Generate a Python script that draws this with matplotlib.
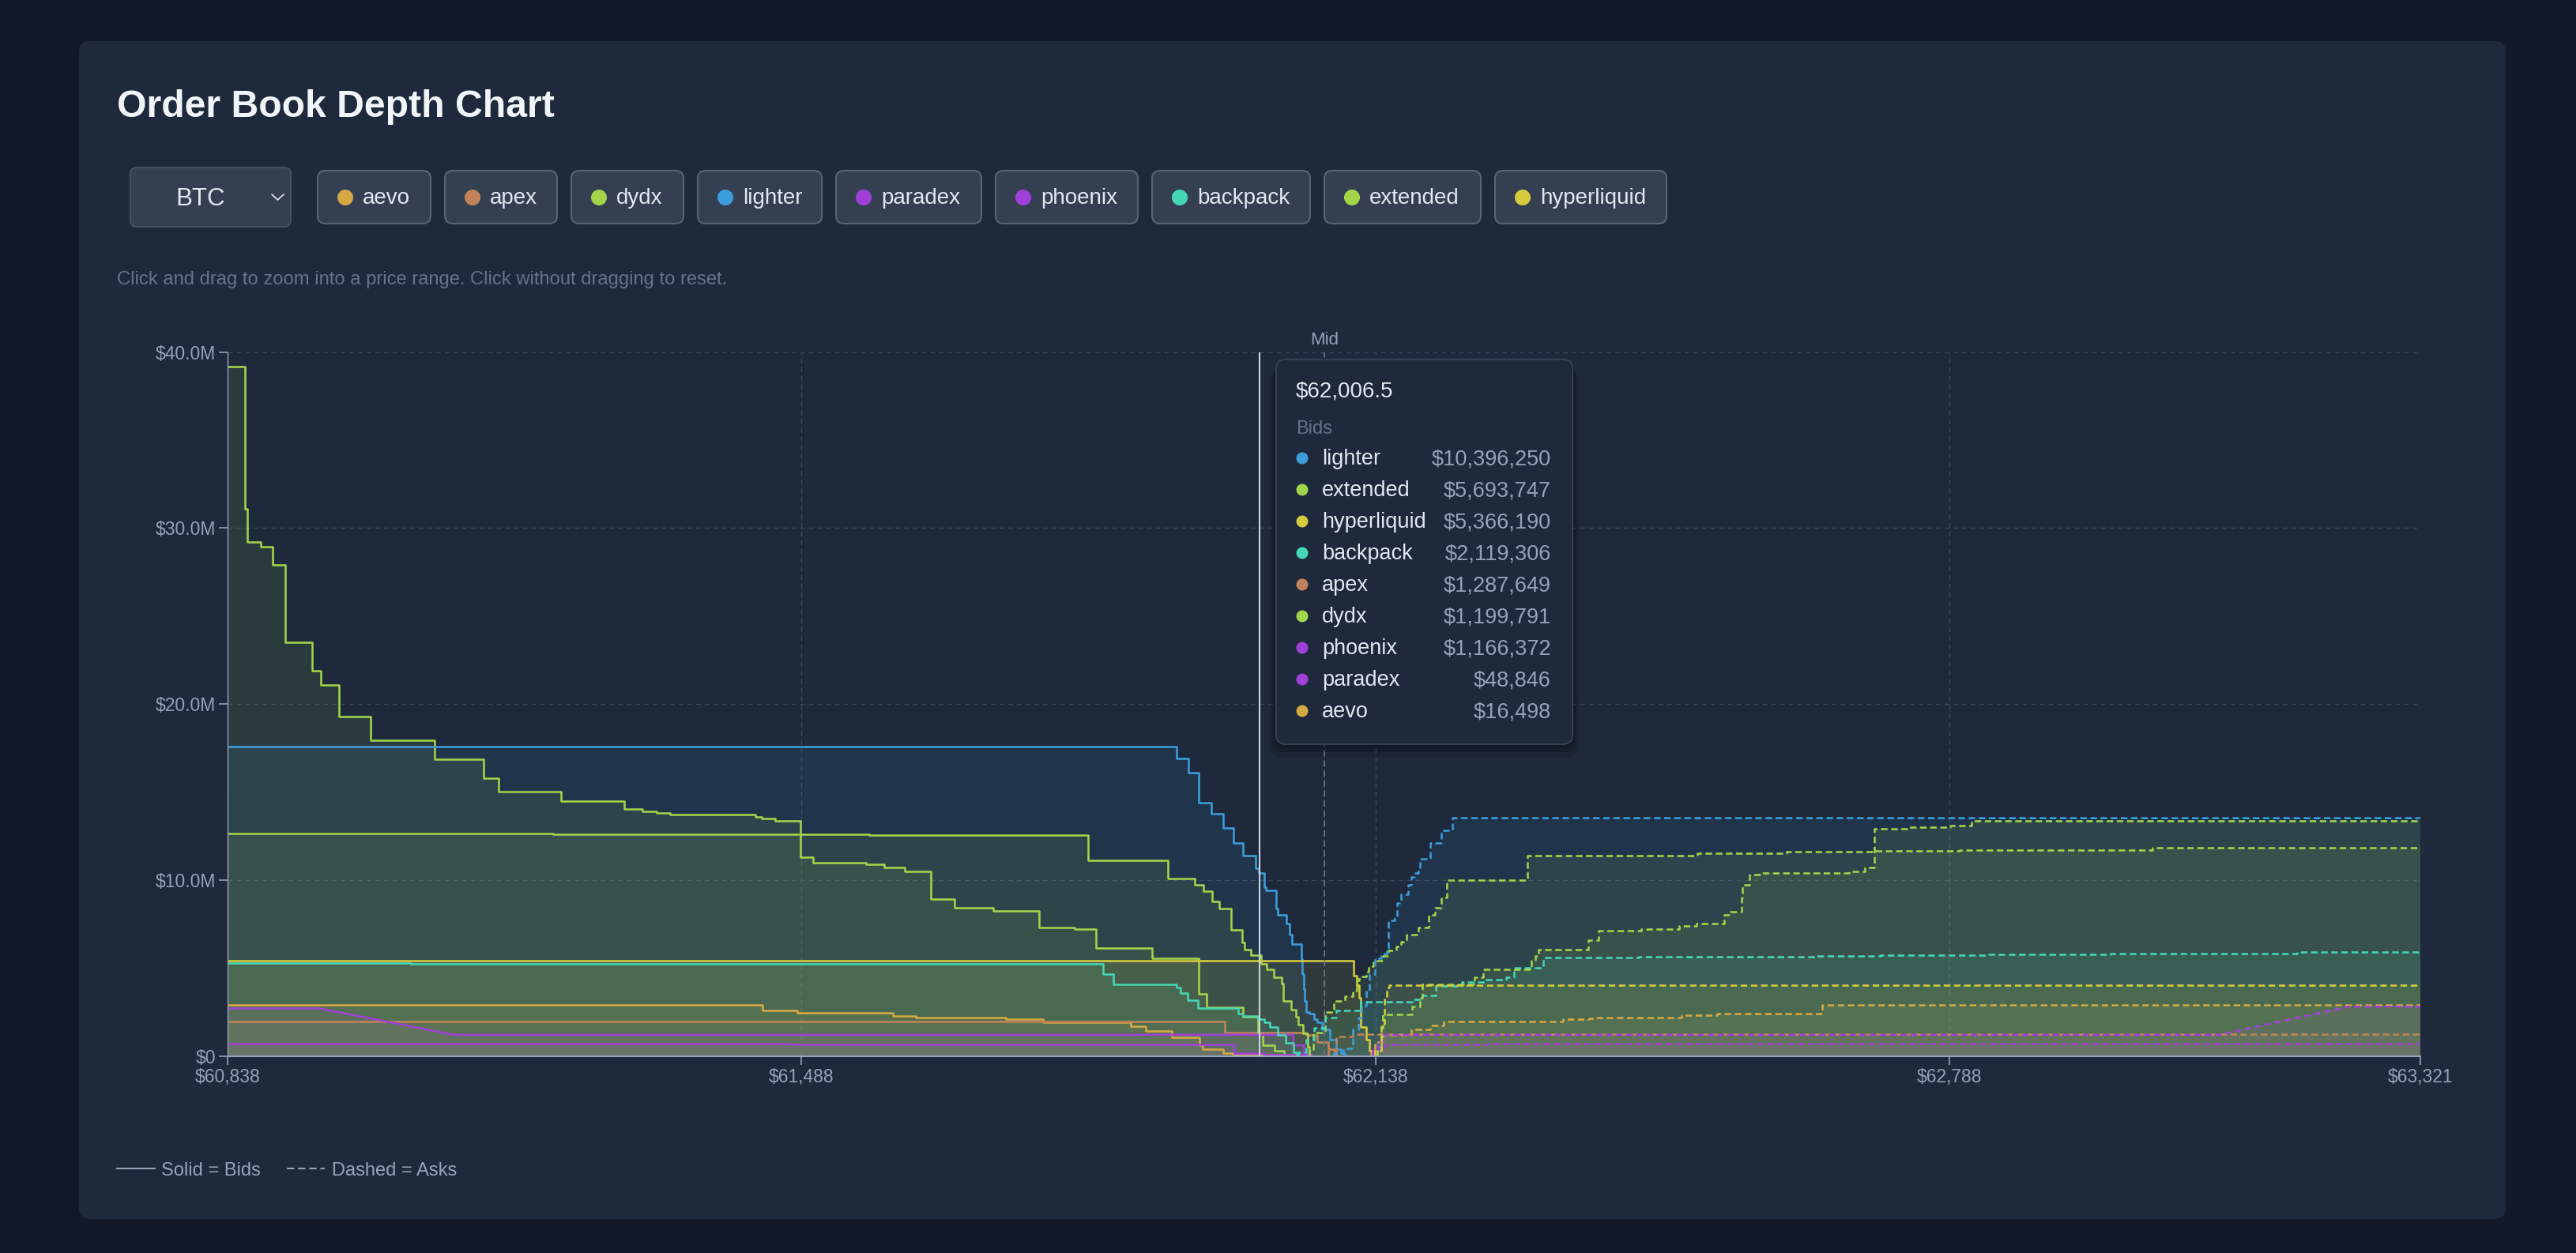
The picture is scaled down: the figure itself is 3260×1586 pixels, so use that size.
import matplotlib
matplotlib.use("Agg")
import matplotlib.pyplot as plt
from matplotlib.patches import FancyBboxPatch, Circle
from matplotlib.ticker import FuncFormatter, FixedLocator

plt.rcParams["font.family"] = ["Liberation Sans", "DejaVu Sans"]

W, H = 3260, 1586
BG, CARD = "#111827", "#1e293b"
BTN, BTN_EDGE = "#344052", "#586476"
TXT, MUTED, DIM, GRID = "#e2e8f0", "#94a3b8", "#64748b", "#3a4557"

EXCHANGES = ["aevo", "apex", "dydx", "lighter", "paradex", "phoenix", "backpack", "extended", "hyperliquid"]
COLORS = {"aevo": "#d6a842", "apex": "#c2835a", "dydx": "#a3d44a", "lighter": "#3b9edb",
          "paradex": "#a040d8", "phoenix": "#a040d8", "backpack": "#45d6b5",
          "extended": "#a3d44a", "hyperliquid": "#d6cb3f"}

# ---- cumulative depth, $M; each level holds until the next price ----
aevo_bid_px = [60838, 61444, 61483, 61591, 61617, 61719, 61761, 61861, 61878, 61907, 61939, 61942, 61965, 61976, 62048]
aevo_bid_m = [2.9, 2.6, 2.44, 2.28, 2.18, 2.09, 1.9, 1.68, 1.41, 1.05, 0.6, 0.37, 0.15, 0.05, 0]
aevo_ask_px = [62133, 62137, 62146, 62178, 62200, 62215, 62350, 62380, 62388, 62484, 62525, 62644, 63321]
aevo_ask_m = [0.3, 0.8, 1.2, 1.52, 1.72, 1.97, 2.07, 2.14, 2.19, 2.3, 2.4, 2.9, 2.9]

apex_bid_px = [60838, 61967, 62059, 62072, 62084, 62093]
apex_bid_m = [1.95, 1.34, 1.2, 0.8, 0.4, 0]
apex_ask_px = [62084, 62093, 62095, 62112, 63321]
apex_ask_m = [0.3, 1.05, 1.1, 1.22, 1.23]

dydx_bid_px = [60838, 60858, 60860, 60876, 60889, 60903, 60934, 60944, 60964, 61000, 61072, 61128, 61145,
               61216, 61287, 61308, 61324, 61339, 61436, 61443, 61458, 61487, 61501, 61561, 61582, 61605,
               61634, 61661, 61705, 61757, 61797, 61821, 61885, 61938, 61947, 61988, 62005, 62010, 62024, 62034]
dydx_bid_m = [39.2, 31.1, 29.2, 28.95, 27.9, 23.5, 21.9, 21.1, 19.3, 17.94, 16.86, 15.8, 15.03,
              14.48, 14.03, 13.9, 13.8, 13.72, 13.6, 13.5, 13.36, 11.3, 11.0, 10.9, 10.7, 10.5,
              8.9, 8.4, 8.24, 7.3, 7.2, 6.13, 5.54, 3.52, 2.76, 2.24, 1.25, 0.6, 0.3, 0]
dydx_ask_px = [62063, 62067, 62081, 62091, 62103, 62112, 62117, 62119, 62127, 62130, 62135, 62140, 62146,
               62152, 62161, 62167, 62173, 62186, 62198, 62205, 62212, 62219, 62310, 62502, 62603, 62703,
               62799, 63018, 63321]
dydx_ask_m = [0.3, 1.34, 2.5, 3.1, 3.4, 3.7, 4.3, 4.5, 4.8, 5.1, 5.3, 5.4, 5.7,
              6.0, 6.2, 6.5, 6.9, 7.3, 8.0, 8.4, 9.0, 10.0, 11.4, 11.5, 11.6, 11.65,
              11.7, 11.85, 11.85]

lighter_bid_px = [60838, 61913, 61926, 61938, 61952, 61965, 61977, 61988, 62002, 62006, 62012, 62014, 62025,
                  62027, 62037, 62041, 62043, 62054, 62055, 62057, 62058, 62059, 62063, 62068, 62072, 62077,
                  62086, 62093, 62099, 62103]
lighter_bid_m = [17.57, 16.9, 16.1, 14.4, 13.76, 12.95, 12.1, 11.4, 10.66, 10.4, 9.58, 9.4, 8.37,
                 8.0, 7.5, 6.9, 6.35, 5.5, 4.64, 3.8, 3.1, 2.5, 2.4, 2.1, 1.9, 1.5,
                 0.9, 0.4, 0.15, 0]
lighter_ask_px = [62091, 62101, 62112, 62118, 62122, 62127, 62131, 62137, 62144, 62151, 62152, 62160, 62162,
                  62167, 62175, 62178, 62182, 62186, 62188, 62200, 62212, 62225, 63321]
lighter_ask_m = [0.15, 0.43, 1.5, 2.2, 2.85, 3.74, 4.64, 5.54, 5.8, 6.13, 7.7, 7.85, 8.7,
                 9.2, 9.7, 10.17, 10.4, 10.6, 11.2, 12.1, 12.8, 13.54, 13.54]

paradex_bid_px = [60838, 61475, 61978, 62012, 62066]
paradex_bid_m = [0.70, 0.67, 0.15, 0.05, 0]
paradex_ask_px = [62135, 62142, 62149, 62265, 63321]
paradex_ask_m = [0.2, 0.5, 0.65, 0.68, 0.68]

phoenix_bid_px = [60838, 60942, 61094, 62045, 62057, 62063]
phoenix_bid_m = [2.7, 2.7, 1.2, 0.6, 0.1, 0]
phoenix_ask_px = [62135, 62141, 62146, 63092, 63240, 63321]
phoenix_ask_m = [0.3, 0.8, 1.19, 1.19, 2.8, 2.8]

backpack_bid_px = [60838, 61046, 61207, 61829, 61841, 61913, 61917, 61925, 61937, 61982, 61988, 62005, 62012,
                   62018, 62027, 62036, 62045, 62049]
backpack_bid_m = [5.28, 5.25, 5.22, 4.64, 4.06, 3.9, 3.58, 3.17, 2.72, 2.42, 2.25, 2.1, 1.9,
                  1.64, 1.19, 0.74, 0.22, 0]
backpack_ask_px = [62050, 62059, 62068, 62081, 62093, 62121, 62179, 62188, 62191, 62206, 62236, 62262, 62286,
                   62295, 62328, 62436, 62595, 62636, 62710, 62829, 62970, 63181, 63321]
backpack_ask_m = [0.2, 0.9, 1.6, 2.2, 2.6, 3.07, 3.2, 3.3, 3.43, 3.97, 4.2, 4.35, 4.48,
                  5.0, 5.58, 5.62, 5.65, 5.7, 5.73, 5.76, 5.8, 5.9, 5.9]

extended_bid_px = [60838, 61207, 61565, 61812, 61903, 61933, 61943, 61953, 61961, 61974, 61987, 61990, 61997,
                   62008, 62015, 62023, 62032, 62033, 62042, 62048, 62050, 62056, 62061, 62063]
extended_bid_m = [12.64, 12.6, 12.55, 11.1, 10.1, 9.72, 9.36, 8.8, 8.37, 7.18, 6.44, 6.05, 5.72,
                  5.23, 4.93, 4.48, 4.1, 3.13, 2.62, 2.24, 1.79, 1.28, 0.5, 0]
extended_ask_px = [62140, 62144, 62146, 62179, 62188, 62191, 62250, 62260, 62314, 62319, 62322, 62379, 62390,
                   62439, 62482, 62501, 62533, 62540, 62552, 62553, 62561, 62573, 62674, 62692, 62703, 62744,
                   62789, 62813, 63321]
extended_ask_m = [0.3, 1.6, 2.35, 2.8, 3.3, 4.05, 4.47, 4.9, 5.4, 5.7, 6.05, 6.6, 7.1,
                  7.2, 7.4, 7.5, 8.0, 8.2, 9.0, 9.7, 10.3, 10.4, 10.5, 10.7, 12.9, 13.0,
                  13.1, 13.35, 13.35]

hyperliquid_bid_px = [60838, 62113, 62117, 62119, 62121, 62127, 62131, 62135]
hyperliquid_bid_m = [5.40, 4.56, 4.03, 3.3, 1.64, 0.9, 0.3, 0]
hyperliquid_ask_px = [62137, 62144, 62148, 62151, 62153, 63321]
hyperliquid_ask_m = [0.3, 1.8, 3.2, 3.9, 4.02, 4.02]

BIDS = {"aevo": (aevo_bid_px, aevo_bid_m), "apex": (apex_bid_px, apex_bid_m),
        "dydx": (dydx_bid_px, dydx_bid_m), "lighter": (lighter_bid_px, lighter_bid_m),
        "paradex": (paradex_bid_px, paradex_bid_m), "phoenix": (phoenix_bid_px, phoenix_bid_m),
        "backpack": (backpack_bid_px, backpack_bid_m), "extended": (extended_bid_px, extended_bid_m),
        "hyperliquid": (hyperliquid_bid_px, hyperliquid_bid_m)}
ASKS = {"aevo": (aevo_ask_px, aevo_ask_m), "apex": (apex_ask_px, apex_ask_m),
        "dydx": (dydx_ask_px, dydx_ask_m), "lighter": (lighter_ask_px, lighter_ask_m),
        "paradex": (paradex_ask_px, paradex_ask_m), "phoenix": (phoenix_ask_px, phoenix_ask_m),
        "backpack": (backpack_ask_px, backpack_ask_m), "extended": (extended_ask_px, extended_ask_m),
        "hyperliquid": (hyperliquid_ask_px, hyperliquid_ask_m)}
# segments drawn as straight ramps (sparse books)
RAMPS = {("phoenix", "bid"): {1}, ("phoenix", "ask"): {3}}

X_TICKS = [60838, 61488, 62138, 62788, 63321]
Y_TICKS = [0, 10, 20, 30, 40]
MID_PRICE = 62080
CURSOR_PRICE = 62006.5
TIP_NAMES = ["lighter", "extended", "hyperliquid", "backpack", "apex", "dydx", "phoenix", "paradex", "aevo"]
TIP_VALUES = [10396250, 5693747, 5366190, 2119306, 1287649, 1199791, 1166372, 48846, 16498]


def step_path(px, m, ask, ramps=()):
    xs, ys = ([px[0]], [0.0]) if ask else ([], [])
    xs.append(px[0]); ys.append(m[0])
    for i in range(1, len(px)):
        if i - 1 not in ramps:
            xs.append(px[i]); ys.append(m[i - 1])
        xs.append(px[i]); ys.append(m[i])
    return xs, ys


fig = plt.figure(figsize=(W / 100, H / 100), dpi=100, facecolor=BG)

# ---- page / card layer (pixel coords, y down) ----
bg = fig.add_axes([0, 0, 1, 1], zorder=0)
bg.set_xlim(0, W); bg.set_ylim(H, 0); bg.axis("off")
bg.add_patch(FancyBboxPatch((100, 52), 3071, 1491, boxstyle="round,pad=0,rounding_size=14",
                            fc=CARD, ec="none"))
bg.text(148, 148, "Order Book Depth Chart", fontsize=34.7, weight="bold", color="#f1f5f9", va="baseline")

# asset select
bg.add_patch(FancyBboxPatch((165, 212), 203, 75, boxstyle="round,pad=0,rounding_size=8",
                            fc=BTN, ec="#4a5568", lw=1.2))
bg.text(254, 260, "BTC", fontsize=22.5, color=TXT, ha="center", va="baseline")
bg.plot([344, 351.5, 359], [246, 253, 246], color=TXT, lw=1.2, solid_capstyle="round")

# exchange toggles
BTN_X = [402, 563, 723, 883, 1058, 1260, 1458, 1676, 1892]
BTN_W = [143, 142, 142, 157, 184, 180, 200, 198, 217]
for name, bx, bw in zip(EXCHANGES, BTN_X, BTN_W):
    bg.add_patch(FancyBboxPatch((bx, 216), bw, 67, boxstyle="round,pad=0,rounding_size=10",
                                fc=BTN, ec=BTN_EDGE, lw=1.5))
    bg.add_patch(Circle((bx + 35, 250), 10, fc=COLORS[name], ec="none"))
    bg.text(bx + 57, 258, name, fontsize=20, color=TXT, va="baseline")

bg.text(148, 360, "Click and drag to zoom into a price range. Click without dragging to reset.",
        fontsize=17.1, color=DIM, va="baseline")

# bottom legend
bg.plot([148, 196], [1479, 1479], color=MUTED, lw=1.5)
bg.text(204, 1488, "Solid = Bids", fontsize=17, color=MUTED, va="baseline")
bg.plot([363, 411], [1479, 1479], color=MUTED, lw=1.5, linestyle=(0, (4.5, 2.3)))
bg.text(420, 1488, "Dashed = Asks", fontsize=17, color=MUTED, va="baseline")

# ---- depth chart ----
ax = fig.add_axes([288 / W, (H - 1336.5) / H, 2775 / W, 890.8 / H], zorder=2)
ax.set_facecolor("none")
ax.set_xlim(X_TICKS[0], X_TICKS[-1])
ax.set_ylim(0, 40)

for side, book in (("bid", BIDS), ("ask", ASKS)):
    for name in EXCHANGES:
        px, m = book[name]
        xs, ys = step_path(px, m, side == "ask", RAMPS.get((name, side), ()))
        ax.fill_between(xs, ys, 0, color=COLORS[name], alpha=0.1, lw=0, zorder=1)
for side, book in (("bid", BIDS), ("ask", ASKS)):
    for name in EXCHANGES:
        px, m = book[name]
        xs, ys = step_path(px, m, side == "ask", RAMPS.get((name, side), ()))
        ls = "-" if side == "bid" else (0, (3.2, 1.8))
        ax.plot(xs, ys, color=COLORS[name], lw=1.85, linestyle=ls, zorder=2)

ax.axvline(MID_PRICE, color=DIM, lw=1.3, linestyle=(0, (4.4, 2.6)), zorder=3)
ax.axvline(CURSOR_PRICE, color="#cbd5e1", lw=1.5, zorder=4)

ax.xaxis.set_major_locator(FixedLocator(X_TICKS))
ax.yaxis.set_major_locator(FixedLocator(Y_TICKS))
ax.xaxis.set_major_formatter(FuncFormatter(lambda v, _: f"${v:,.0f}"))
ax.yaxis.set_major_formatter(FuncFormatter(lambda v, _: "$0" if v == 0 else f"${v:.1f}M"))
ax.grid(True, color=GRID, lw=1.0, linestyle=(0, (4.3, 3.6)), zorder=0)
ax.set_axisbelow(True)
for s in ("top", "right"):
    ax.spines[s].set_visible(False)
ax.spines["left"].set_color(MUTED); ax.spines["left"].set_linewidth(1.0)
ax.spines["bottom"].set_color(MUTED); ax.spines["bottom"].set_linewidth(1.5)
ax.tick_params(colors=MUTED, labelcolor=MUTED, labelsize=16.5, length=8, width=1.2, pad=3)

# ---- overlay: mid label + tooltip ----
ov = fig.add_axes([0, 0, 1, 1], zorder=5)
ov.set_xlim(0, W); ov.set_ylim(H, 0); ov.axis("off"); ov.patch.set_alpha(0)
ov.text(1676, 436, "Mid", fontsize=16, color=MUTED, ha="center", va="baseline")

for off, a in ((16, 0.10), (10, 0.14), (5, 0.18)):
    ov.add_patch(FancyBboxPatch((1615 - off / 2, 455 + off), 375 + off, 487, boxstyle="round,pad=0,rounding_size=14",
                                fc="black", ec="none", alpha=a))
ov.add_patch(FancyBboxPatch((1615, 455), 375, 487, boxstyle="round,pad=0,rounding_size=12",
                            fc=CARD, ec="#334155", lw=1.5))
ov.text(1640, 502, f"${CURSOR_PRICE:,.1f}", fontsize=20, color=TXT, va="baseline")
ov.text(1640, 549, "Bids", fontsize=17, color=DIM, va="baseline")
for i, (name, val) in enumerate(zip(TIP_NAMES, TIP_VALUES)):
    y = 580 + 40 * i
    ov.add_patch(Circle((1648, y), 7.5, fc=COLORS[name], ec="none"))
    ov.text(1673, y + 8, name, fontsize=19.5, color=TXT, va="baseline")
    ov.text(1963, y + 8, f"${val:,}", fontsize=19.5, color=MUTED, ha="right", va="baseline")

fig.savefig("out.png", dpi=100, facecolor=BG)
